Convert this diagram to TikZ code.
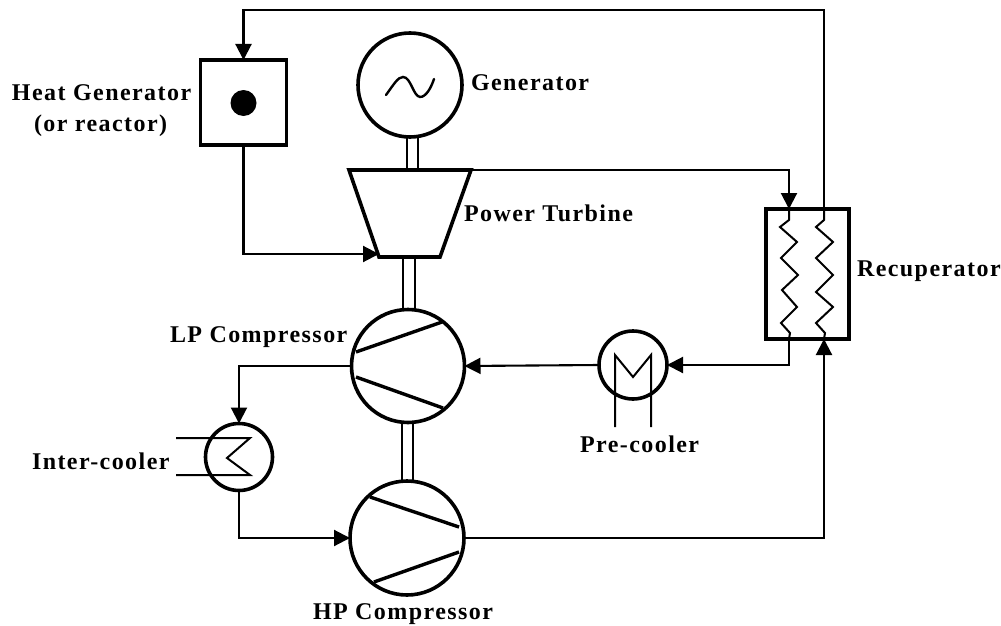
\documentclass[tikz,border=0pt]{standalone}
\usepackage{fontspec}
\setmainfont{Liberation Serif}[LetterSpace=6]
\usetikzlibrary{arrows.meta}
\tikzset{
  x=1pt,y=-1pt,
  thin line/.style={line width=2pt},
  flow/.style={line width=2.1pt,-{Triangle[length=16pt,width=16pt]},line join=miter},
  thick shape/.style={draw,line width=3.6pt},
  unit/.style={thick shape,circle,inner sep=0pt,outer sep=0pt,minimum size=#1},
  blade/.style={line width=3.4pt},
  shaft/.style={line width=2pt},
  lab/.style={anchor=base west,inner sep=0pt,outer sep=0pt,font=\bfseries\fontsize{24}{26}\selectfont},
}
\begin{document}
\begin{tikzpicture}
\useasboundingbox (0,0) rectangle (1001,626);
% units
\node[unit=104pt] (gen) at (410,85) {};
\node[unit=113pt] (lp) at (408,366) {};
\node[unit=114pt] (hp) at (407,538) {};
\node[unit=68pt] (pre) at (633,365) {};
\node[unit=67pt] (ic) at (239,457) {};
\node[thick shape,rectangle,inner sep=0pt,outer sep=0pt,minimum width=86pt,minimum height=85pt] (hg) at (243.5,102.5) {};
\node[thick shape,rectangle,inner sep=0pt,outer sep=0pt,minimum width=83pt,minimum height=130pt] (rec) at (807.5,274) {};
\node[circle,fill=black,inner sep=0pt,minimum size=26pt] (core) at (243.5,103) {};
% turbine
\coordinate (ttl) at (349,170);
\coordinate (ttr) at (471,170);
\coordinate (tbr) at (440,257);
\coordinate (tbl) at (379,257);
\draw[line width=3.6pt,line join=miter] (ttl) -- (ttr) -- (tbr) -- (tbl) -- cycle;
% generator symbol
\draw[line width=2.4pt,line cap=round] (386,95) .. controls (394,84) and (398,77) .. (403,77)
  .. controls (411,77) and (413,96) .. (420,97) .. controls (426,97) and (431,88) .. (434,79);
% shafts
\draw[shaft] (407,137) -- (407,170) (418,137) -- (418,170);
\draw[shaft] (403,257) -- (403,310) (415,257) -- (415,310);
\draw[shaft] (402,422) -- (402,482) (413,422) -- (413,482);
% compressor blades
\draw[blade] (356,352) -- (442,322);
\draw[blade] (356,377) -- (443,408);
\draw[blade] (370,497) -- (459,527);
\draw[blade] (459,552) -- (374,582);
% recuperator coils
\coordinate (lt) at (789,209);
\coordinate (lb) at (789,339);
\coordinate (rt) at (824,209);
\coordinate (rb) at (824,339);
\draw[thin line] (lt) -- (789,220) -- (780,227) -- (797,242) -- (781,258) -- (798,275) -- (782,290) -- (797,307) -- (781,323) -- (790,333) -- (lb);
\draw[thin line] (rt) -- (824,220) -- (816,227) -- (833,242) -- (816,258) -- (833,275) -- (816,292) -- (833,307) -- (816,323) -- (825,333) -- (rb);
% pre-cooler symbol
\coordinate (pl) at (615,427);
\coordinate (pr) at (651,427);
\draw[thin line] (pl) -- (615,355) -- (633,377) -- (651,355) -- (pr);
% inter-cooler symbol
\coordinate (il) at (176,438);
\coordinate (ir) at (176,475);
\draw[thin line] (il) -- (250,438) -- (227,458) -- (250,475) -- (ir);
% connectors
\coordinate (tin) at (379,254);
\coordinate (tout) at (471,170);
\coordinate (topr) at (824,10);
\draw[flow] (rt) -- (topr) -| (hg.north);
\draw[flow] (hg.south) |- (tin);
\draw[flow] (tout) -| (lt);
\draw[flow] (lb) |- (pre.east);
\draw[flow] (pre.west) -- (lp.east);
\draw[flow] (lp.west) -| (ic.north);
\draw[flow] (ic.south) |- (hp.west);
\draw[flow] (hp.east) -| (rb);
% labels
\node[lab] (l1) at (12,100) {Heat Generator};
\node[lab] (l2) at (34,131) {(or reactor)};
\node[lab] (l3) at (471,90) {Generator};
\node[lab] (l4) at (464,221) {Power Turbine};
\node[lab] (l5) at (857,276) {Recuperator};
\node[lab] (l6) at (170,342) {LP Compressor};
\node[lab] (l7) at (580,452) {Pre-cooler};
\node[lab] (l8) at (32,469) {Inter-cooler};
\node[lab] (l9) at (313,619) {HP Compressor};
\end{tikzpicture}
\end{document}
